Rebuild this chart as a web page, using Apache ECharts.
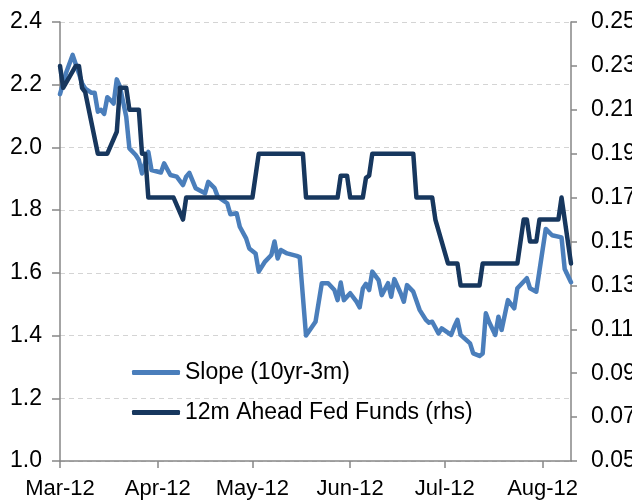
<!DOCTYPE html>
<html>
<head>
<meta charset="utf-8">
<script src="https://cdn.jsdelivr.net/npm/echarts@6/dist/echarts.min.js"></script>
<style>
  html, body { margin: 0; padding: 0; background: #fff; }
  #chart { width: 632px; height: 503px; }
</style>
</head>
<body>
<div id="chart"></div>
<script>
// x axis month ticks
const monthTicks = ["2012-03-01", "2012-04-01", "2012-05-01", "2012-06-01", "2012-07-01", "2012-08-01"];
const monthLabels = ["Mar-12", "Apr-12", "May-12", "Jun-12", "Jul-12", "Aug-12"];

// Slope (10yr-3m), left axis
const slopeDates = [
  "2012-03-01", "2012-03-03", "2012-03-05", "2012-03-07", "2012-03-08", "2012-03-09", "2012-03-11", "2012-03-12",
  "2012-03-13", "2012-03-14", "2012-03-15", "2012-03-16", "2012-03-17", "2012-03-18", "2012-03-19", "2012-03-20",
  "2012-03-22", "2012-03-23", "2012-03-25", "2012-03-26", "2012-03-27", "2012-03-29", "2012-03-30",
  "2012-04-02", "2012-04-03", "2012-04-05", "2012-04-07", "2012-04-09", "2012-04-10", "2012-04-11", "2012-04-13",
  "2012-04-16", "2012-04-17", "2012-04-19", "2012-04-20", "2012-04-23", "2012-04-24", "2012-04-26", "2012-04-27",
  "2012-04-29", "2012-04-30",
  "2012-05-02", "2012-05-03", "2012-05-05", "2012-05-07", "2012-05-08", "2012-05-09", "2012-05-10", "2012-05-12",
  "2012-05-15", "2012-05-16", "2012-05-18", "2012-05-21", "2012-05-23", "2012-05-25", "2012-05-27", "2012-05-28",
  "2012-05-29", "2012-05-30",
  "2012-06-01", "2012-06-03", "2012-06-04", "2012-06-05", "2012-06-06", "2012-06-07", "2012-06-08", "2012-06-10",
  "2012-06-11", "2012-06-13", "2012-06-14", "2012-06-15", "2012-06-17", "2012-06-18", "2012-06-19", "2012-06-21",
  "2012-06-23", "2012-06-25", "2012-06-26", "2012-06-27", "2012-06-29", "2012-06-30",
  "2012-07-03", "2012-07-04", "2012-07-05", "2012-07-06", "2012-07-09", "2012-07-10", "2012-07-12", "2012-07-13",
  "2012-07-14", "2012-07-15", "2012-07-17", "2012-07-18", "2012-07-19", "2012-07-21", "2012-07-23", "2012-07-24",
  "2012-07-27", "2012-07-28", "2012-07-30",
  "2012-08-02", "2012-08-04", "2012-08-07", "2012-08-08", "2012-08-10"
];
const slopeValues = [
  2.17, 2.24, 2.295, 2.236, 2.204, 2.188, 2.174, 2.174,
  2.114, 2.12, 2.107, 2.16, 2.151, 2.14, 2.217, 2.194,
  2.098, 1.997, 1.976, 1.96, 1.917, 1.986, 1.928,
  1.92, 1.949, 1.912, 1.907, 1.88, 1.907, 1.919, 1.87,
  1.854, 1.89, 1.87, 1.843, 1.822, 1.787, 1.79, 1.747,
  1.71, 1.678,
  1.662, 1.604, 1.636, 1.657, 1.70, 1.646, 1.673, 1.662,
  1.654, 1.65, 1.40, 1.444, 1.567, 1.567, 1.545, 1.513,
  1.569, 1.513,
  1.535, 1.508, 1.49, 1.55, 1.565, 1.545, 1.604, 1.577,
  1.529, 1.567, 1.524, 1.58, 1.535, 1.508, 1.561, 1.54,
  1.482, 1.45, 1.441, 1.444, 1.407, 1.423,
  1.402, 1.428, 1.45, 1.402, 1.375, 1.343, 1.335, 1.343,
  1.471, 1.444, 1.402, 1.46, 1.418, 1.513, 1.487, 1.551,
  1.583, 1.551, 1.54,
  1.74, 1.72, 1.713, 1.612, 1.57
];

// 12m Ahead Fed Funds, right axis
const fedDates = [
  "2012-03-01", "2012-03-02", "2012-03-06", "2012-03-07", "2012-03-08", "2012-03-09", "2012-03-13", "2012-03-16",
  "2012-03-19", "2012-03-20", "2012-03-22", "2012-03-23", "2012-03-26", "2012-03-27", "2012-03-28", "2012-03-29",
  "2012-04-06", "2012-04-09", "2012-04-10",
  "2012-05-01", "2012-05-03", "2012-05-17", "2012-05-18", "2012-05-28", "2012-05-29", "2012-05-31",
  "2012-06-01", "2012-06-05", "2012-06-06", "2012-06-07", "2012-06-08", "2012-06-21", "2012-06-22", "2012-06-27",
  "2012-06-28",
  "2012-07-02", "2012-07-05", "2012-07-06", "2012-07-12", "2012-07-13", "2012-07-24", "2012-07-26", "2012-07-27",
  "2012-07-28", "2012-07-30", "2012-07-31",
  "2012-08-06", "2012-08-07", "2012-08-08", "2012-08-10"
];
const fedValues = [
  0.23, 0.22, 0.23, 0.23, 0.22, 0.218, 0.19, 0.19,
  0.20, 0.22, 0.22, 0.21, 0.21, 0.19, 0.19, 0.17,
  0.17, 0.16, 0.17,
  0.17, 0.19, 0.19, 0.17, 0.17, 0.18, 0.18,
  0.17, 0.17, 0.179, 0.18, 0.19, 0.19, 0.17, 0.17,
  0.16,
  0.14, 0.14, 0.13, 0.13, 0.14, 0.14, 0.16, 0.16,
  0.15, 0.15, 0.16,
  0.16, 0.17, 0.16, 0.14
];

const ts = (s) => echarts.time.parse(s).getTime();
const tickValues = monthTicks.map(ts);

const axisGray = "#868686";
const fontFamily = "Liberation Sans, Arial, sans-serif";

const chart = echarts.init(document.getElementById("chart"), null, { renderer: "canvas" });

const option = {
  animation: false,
  backgroundColor: "#fff",
  grid: { left: 60, right: 61, top: 22, bottom: 42, containLabel: false, outerBoundsMode: "none" },
  legend: {
    orient: "vertical",
    left: 127,
    top: 356,
    itemWidth: 48,
    itemHeight: 5,
    itemGap: 17,
    icon: "roundRect",
    textStyle: { color: "#000", fontSize: 23, fontFamily },
    data: ["Slope (10yr-3m)", "12m Ahead Fed Funds (rhs)"]
  },
  xAxis: {
    type: "value",
    min: ts("2012-03-01"),
    max: ts("2012-08-10"),
    axisLine: { lineStyle: { color: axisGray, width: 1.5 } },
    axisTick: { show: true, length: 7, lineStyle: { color: axisGray, width: 1.5 }, customValues: tickValues },
    axisLabel: {
      color: "#000",
      fontSize: 22,
      fontFamily,
      margin: 17,
      customValues: tickValues,
      formatter: (val) => {
        const i = tickValues.indexOf(val);
        return i >= 0 ? monthLabels[i] : "";
      }
    },
    splitLine: { show: false }
  },
  yAxis: [
    {
      type: "value",
      position: "left",
      min: 1.0,
      max: 2.4,
      interval: 0.2,
      axisLine: { show: true, lineStyle: { color: axisGray, width: 1.5 } },
      axisTick: { show: true, length: 8, lineStyle: { color: axisGray, width: 1.5 } },
      axisLabel: { color: "#000", fontSize: 23, fontFamily, margin: 18, formatter: (v) => v.toFixed(1) },
      splitLine: { show: true, lineStyle: { color: "#d4d4d4", type: [5, 4], width: 1 } }
    },
    {
      type: "value",
      position: "right",
      min: 0.05,
      max: 0.25,
      interval: 0.02,
      axisLine: { show: true, lineStyle: { color: axisGray, width: 1.5 } },
      axisTick: { show: true, length: 6, lineStyle: { color: axisGray, width: 1.5 } },
      axisLabel: { color: "#000", fontSize: 23, fontFamily, margin: 20, formatter: (v) => v.toFixed(2) },
      splitLine: { show: false }
    }
  ],
  series: [
    {
      name: "Slope (10yr-3m)",
      type: "line",
      yAxisIndex: 0,
      showSymbol: false,
      symbol: "none",
      color: "#4A7EBB",
      lineStyle: { width: 4.5, color: "#4A7EBB", join: "round", cap: "round" },
      data: slopeDates.map((d, i) => [ts(d), slopeValues[i]])
    },
    {
      name: "12m Ahead Fed Funds (rhs)",
      type: "line",
      yAxisIndex: 1,
      showSymbol: false,
      symbol: "none",
      color: "#17375E",
      lineStyle: { width: 4.5, color: "#17375E", join: "round", cap: "round" },
      data: fedDates.map((d, i) => [ts(d), fedValues[i]])
    }
  ]
};

chart.setOption(option);
</script>
</body>
</html>
